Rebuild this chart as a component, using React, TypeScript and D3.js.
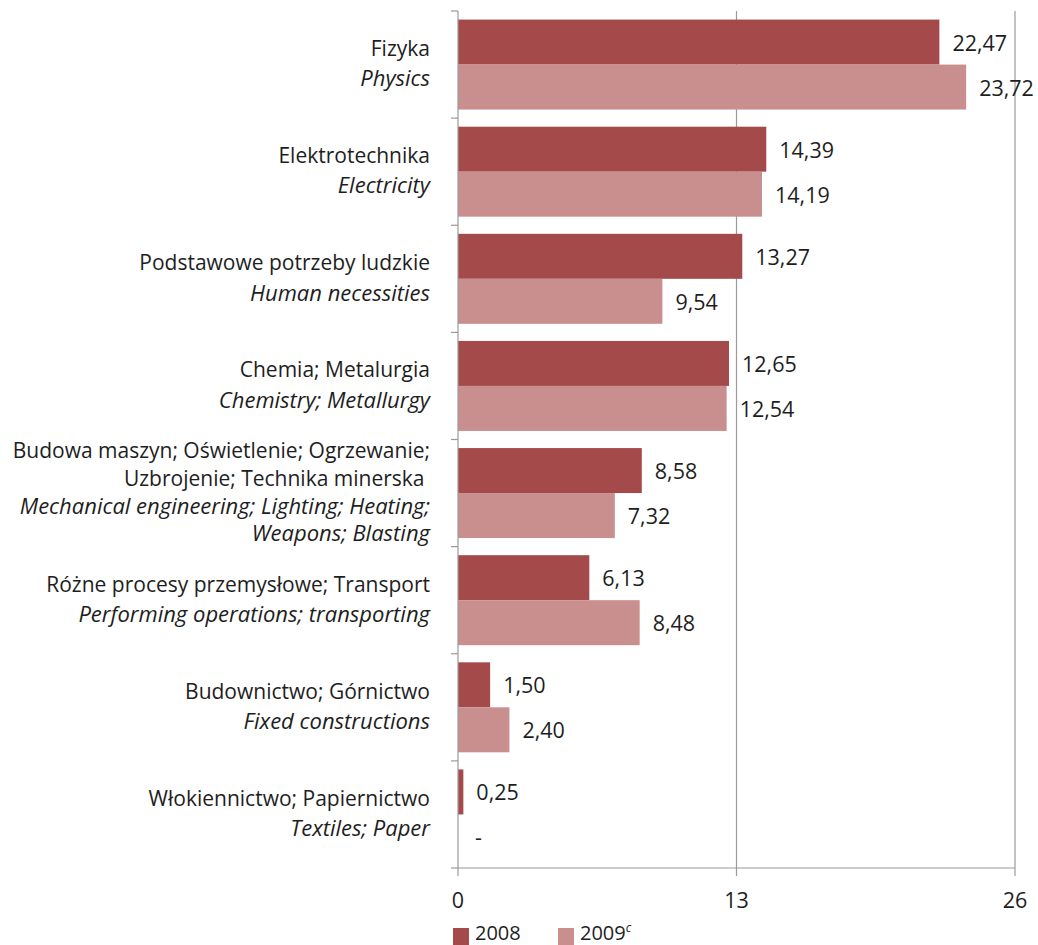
import React, { useEffect, useRef } from "react";
import * as d3 from "d3";

const categoriesPL: string[][] = [
  ["Fizyka"],
  ["Elektrotechnika"],
  ["Podstawowe potrzeby ludzkie"],
  ["Chemia; Metalurgia"],
  ["Budowa maszyn; Oświetlenie; Ogrzewanie;", "Uzbrojenie; Technika minerska "],
  ["Różne procesy przemysłowe; Transport"],
  ["Budownictwo; Górnictwo"],
  ["Włokiennictwo; Papiernictwo"],
];
const categoriesEN: string[][] = [
  ["Physics"],
  ["Electricity"],
  ["Human necessities"],
  ["Chemistry; Metallurgy"],
  ["Mechanical engineering; Lighting; Heating;", "Weapons; Blasting"],
  ["Performing operations; transporting"],
  ["Fixed constructions"],
  ["Textiles; Paper"],
];
const values2008: (number | null)[] = [22.47, 14.39, 13.27, 12.65, 8.58, 6.13, 1.5, 0.25];
const values2009: (number | null)[] = [23.72, 14.19, 9.54, 12.54, 7.32, 8.48, 2.4, null];
const xTicks = [0, 13, 26];
const seriesNames = ["2008", "2009"];

const COLORS = ["#A54A4A", "#C98E8E"];
const FONT = "'Open Sans', sans-serif";
const FS = 21;
const FS_IT = 22;
const FS_NUM = 21.5;

export default function App() {
  const ref = useRef<SVGSVGElement | null>(null);

  useEffect(() => {
    const svg = d3.select(ref.current);
    svg.selectAll("*").remove();
    const W = 1038, H = 945;
    const left = 458, right = 1015, top = 11, bottom = 868;
    const x = d3.scaleLinear().domain([0, 26]).range([left, right]);
    const idx = categoriesPL.map((_, i) => i);
    const y = d3.scaleBand<number>().domain(idx).range([top, bottom]).paddingInner(0.16).paddingOuter(0.08);
    const sub = d3.scaleBand<number>().domain([0, 1]).range([0, y.bandwidth()]);

    const g = svg.append("g");

    xTicks.filter(t => t > 0).forEach(t => {
      g.append("line").attr("x1", x(t)).attr("x2", x(t)).attr("y1", top).attr("y2", bottom + 8)
        .attr("stroke", "#9a9a9a").attr("stroke-width", 1.2);
    });
    g.append("line").attr("x1", left).attr("x2", right).attr("y1", bottom).attr("y2", bottom)
      .attr("stroke", "#9a9a9a").attr("stroke-width", 1.2);
    g.append("line").attr("x1", left).attr("x2", left).attr("y1", bottom).attr("y2", bottom + 8)
      .attr("stroke", "#9a9a9a").attr("stroke-width", 1.2);

    const series = [values2008, values2009];
    series.forEach((vals, s) => {
      vals.forEach((v, i) => {
        const y0 = (y(i) as number) + (sub(s) as number);
        if (v !== null) {
          g.append("rect").attr("x", x(0)).attr("y", y0).attr("width", x(v) - x(0)).attr("height", sub.bandwidth())
            .attr("fill", COLORS[s]);
        }
        g.append("text").attr("x", x(v ?? 0) + (v === null ? 17 : 13)).attr("y", y0 + sub.bandwidth() / 2 + 1)
          .attr("dy", "0.35em").attr("font-family", FONT).attr("font-size", FS_NUM).attr("fill", "#1e1e1e")
          .text(v === null ? "-" : d3.format(".2f")(v).replace(".", ","));
      });
    });

    g.append("line").attr("x1", left).attr("x2", left).attr("y1", top).attr("y2", bottom)
      .attr("stroke", "#9a9a9a").attr("stroke-width", 1.2);
    d3.range(idx.length + 1).forEach(k => {
      const yy = top + k * y.step();
      g.append("line").attr("x1", left - 7).attr("x2", left).attr("y1", yy).attr("y2", yy)
        .attr("stroke", "#9a9a9a").attr("stroke-width", 1.2);
    });

    idx.forEach(i => {
      const lines = [
        ...categoriesPL[i].map(t => ({ t, it: false })),
        ...categoriesEN[i].map(t => ({ t, it: true })),
      ];
      const spacing = lines.length > 2 ? 27.5 : 30;
      const cy = (y(i) as number) + y.bandwidth() / 2 - 1;
      const start = cy - (spacing * (lines.length - 1)) / 2;
      lines.forEach((l, j) => {
        g.append("text").attr("x", 430).attr("y", start + j * spacing).attr("dy", "0.35em")
          .attr("text-anchor", "end").attr("font-family", FONT).attr("font-size", l.it ? FS_IT : FS)
          .attr("font-style", l.it ? "italic" : "normal").attr("fill", "#1e1e1e")
          .attr("xml:space", "preserve").style("white-space", "pre")
          .text(l.t);
      });
    });

    xTicks.forEach(t => {
      g.append("text").attr("x", x(t)).attr("y", 900).attr("dy", "0.35em").attr("text-anchor", "middle")
        .attr("font-family", FONT).attr("font-size", FS_NUM).attr("fill", "#1e1e1e").text(String(t));
    });

    const legX = [453, 558];
    seriesNames.forEach((n, s) => {
      g.append("rect").attr("x", legX[s]).attr("y", 928).attr("width", 16).attr("height", 17).attr("fill", COLORS[s]);
      const tx = g.append("text").attr("x", legX[s] + 22).attr("y", 940).attr("font-family", FONT)
        .attr("font-size", 20).attr("fill", "#1e1e1e").text(n);
      if (s === 1) {
        tx.append("tspan").attr("font-size", 12).attr("font-style", "italic").attr("dy", -8).text("c");
      }
    });
    svg.attr("width", W).attr("height", H);
  }, []);

  return <svg ref={ref} width={1038} height={945} style={{ display: "block", position: "absolute", left: 0, top: 0 }} />;
}
